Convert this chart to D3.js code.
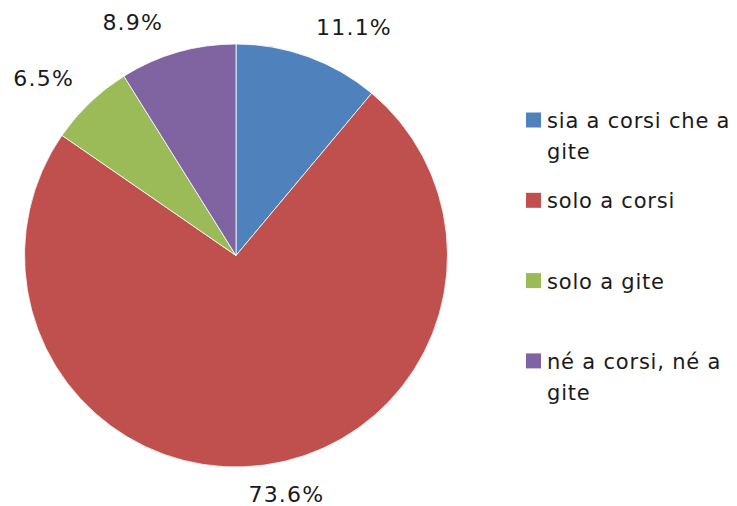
<!DOCTYPE html>
<html>
<head>
<meta charset="utf-8">
<script src="https://cdn.jsdelivr.net/npm/d3@7"></script>
<style>
  body { margin: 0; background: #fff; }
  svg text { font-family: "DejaVu Sans", Verdana, sans-serif; fill: #1a1a1a; }
</style>
</head>
<body>
<svg id="vis-svg" width="737" height="506"></svg>
<script>
// chart data
var categories = ["sia a corsi che a gite", "solo a corsi", "solo a gite", "né a corsi, né a gite"];
var values = [11.1, 73.6, 6.5, 8.9];
var colors = ["#4F81BD", "#C0504D", "#9BBB59", "#8064A2"];

var width = 737;
var height = 506;
var center = { x: 236, y: 255.5 };
var radius = 211.5;
var labelGap = 23;
var fontSize = 22;

var svg = d3.select("#vis-svg");

var data = categories.map(function(c, i) {
  return { name: c, value: values[i], color: colors[i] };
});

var pie = d3.pie()
  .sort(null)
  .value(function(d) { return d.value; });

var arc = d3.arc()
  .innerRadius(0)
  .outerRadius(radius);

var arcs = pie(data);

var g = svg.append("g")
  .attr("transform", "translate(" + center.x + "," + center.y + ")");

g.selectAll("path")
  .data(arcs)
  .enter()
  .append("path")
  .attr("d", arc)
  .attr("fill", function(d) { return d.data.color; })
  .attr("stroke", "#fff")
  .attr("stroke-width", 0.8);

// labels outside the slices, nearest corner of the text at the anchor point
g.selectAll("text.lbl")
  .data(arcs)
  .enter()
  .append("text")
  .attr("class", "lbl")
  .style("font-size", fontSize + "px")
  .style("letter-spacing", "1.2px")
  .text(function(d) { return d3.format(".1f")(d.data.value) + "%"; })
  .each(function(d) {
    var a = (d.startAngle + d.endAngle) / 2;
    var r = radius + labelGap;
    var px = Math.sin(a) * r;
    var py = -Math.cos(a) * r;
    var t = d3.select(this);
    // near the bottom the label sits roughly centred under the slice
    if (Math.abs(Math.sin(a)) < 0.3) {
      t.attr("text-anchor", "middle");
      px += Math.sin(a) * 140;
    } else {
      t.attr("text-anchor", Math.sin(a) >= 0 ? "start" : "end");
    }
    if (Math.cos(a) >= 0) {
      t.attr("x", px).attr("y", py);
    } else {
      // keep it inside the bottom edge
      var yb = Math.min(py + fontSize * 0.73, height - center.y - 4);
      t.attr("x", px).attr("y", yb);
    }
  });

// legend
var legendX = 526;
var legendTop = 120;
var legendStep = 80.3;
var maxTextW = 190;

var legend = svg.append("g");

var items = legend.selectAll("g")
  .data(data)
  .enter()
  .append("g")
  .attr("transform", function(d, i) {
    return "translate(" + legendX + "," + (legendTop + i * legendStep) + ")";
  });

items.append("rect")
  .attr("x", 0)
  .attr("y", -7.5)
  .attr("width", 15)
  .attr("height", 15)
  .attr("fill", function(d) { return d.color; });

items.append("text")
  .attr("x", 21)
  .attr("y", 8)
  .style("font-size", "21px")
  .style("letter-spacing", "0.8px")
  .each(function(d) {
    var t = d3.select(this);
    var words = d.name.split(" ");
    var line = [];
    var tspan = t.append("tspan").attr("x", 21).attr("dy", 0);
    words.forEach(function(w) {
      line.push(w);
      tspan.text(line.join(" "));
      if (tspan.node().getComputedTextLength() > maxTextW && line.length > 1) {
        line.pop();
        tspan.text(line.join(" "));
        line = [w];
        tspan = t.append("tspan").attr("x", 21).attr("dy", 31).text(w);
      }
    });
  });
</script>
</body>
</html>
